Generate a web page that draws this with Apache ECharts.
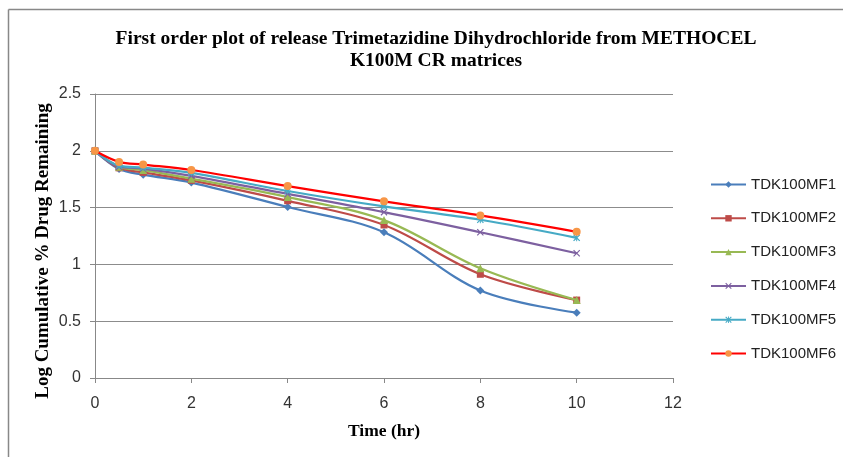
<!DOCTYPE html>
<html>
<head>
<meta charset="utf-8">
<script src="https://cdn.jsdelivr.net/npm/echarts@6/dist/echarts.min.js"></script>
<style>html,body{margin:0;padding:0;background:#fff;}#c{width:843px;height:457px;}</style>
</head>
<body>
<div id="c"></div>
<script>
var times = [0, 0.5, 1, 2, 4, 6, 8, 10];
var seriesNames = ['TDK100MF1','TDK100MF2','TDK100MF3','TDK100MF4','TDK100MF5','TDK100MF6'];
var MF1 = [2, 1.84, 1.79, 1.72, 1.505, 1.283, 0.771, 0.575];
var MF2 = [2, 1.85, 1.81, 1.74, 1.56, 1.347, 0.913, 0.686];
var MF3 = [2, 1.86, 1.83, 1.755, 1.593, 1.39, 0.966, 0.686];
var MF4 = [2, 1.86, 1.844, 1.78, 1.62, 1.46, 1.283, 1.098];
var MF5 = [2, 1.87, 1.852, 1.805, 1.646, 1.51, 1.393, 1.234];
var MF6 = [2, 1.902, 1.879, 1.831, 1.69, 1.555, 1.431, 1.287];
var yTicks = [0, 0.5, 1, 1.5, 2, 2.5];
var xTicks = [0, 2, 4, 6, 8, 10, 12];

var allValues = [MF1, MF2, MF3, MF4, MF5, MF6];
var lineColors = ['#4A7EBB','#BE4B48','#98B954','#7D60A0','#46AAC5','#FF0000'];
var markColors = ['#4A7EBB','#BE4B48','#98B954','#7D60A0','#46AAC5','#F79646'];
var xPath = 'path://M0,1.2L1.2,0L5,3.8L8.8,0L10,1.2L6.2,5L10,8.8L8.8,10L5,6.2L1.2,10L0,8.8L3.8,5Z';
var starPath = 'path://M0,1.2L1.2,0L5,3.8L8.8,0L10,1.2L6.2,5L10,8.8L8.8,10L5,6.2L1.2,10L0,8.8L3.8,5Z M4.3,0L5.7,0L5.7,10L4.3,10Z';
var symbols = ['diamond','rect','triangle',xPath,starPath,'circle'];
var sizes = [8,7,8,7,7,8];

var series = seriesNames.map(function(n,i){
  return {
    name: n, type: 'line', smooth: 0.35,
    data: times.map(function(t,j){ return [t, allValues[i][j]]; }),
    symbol: symbols[i], symbolSize: sizes[i], showSymbol: true,
    lineStyle: {color: lineColors[i], width: 2.25},
    itemStyle: {color: markColors[i], borderWidth: 0},
    emphasis: {disabled: true},
    z: 2 + i
  };
});

var chart = echarts.init(document.getElementById('c'), null, {renderer: 'canvas'});
chart.setOption({
  animation: false,
  backgroundColor: '#fff',
  title: {
    text: 'First order plot of release Trimetazidine Dihydrochloride from METHOCEL\nK100M CR matrices',
    left: 431, top: 23, textAlign: 'center',
    textStyle: {fontFamily: 'Liberation Serif', fontWeight: 'bold', fontSize: 19.5, lineHeight: 22, color: '#000'}
  },
  graphic: [
    {type: 'line', shape: {x1: 8.5, y1: 9.5, x2: 843, y2: 9.5}, style: {stroke: '#888', lineWidth: 1.5}},
    {type: 'line', shape: {x1: 8.5, y1: 9.5, x2: 8.5, y2: 457}, style: {stroke: '#888', lineWidth: 1.5}},
    {type: 'text', x: 43, y: 251, rotation: Math.PI / 2,
      style: {text: 'Log Cumulative % Drug Remaining', fontFamily: 'Liberation Serif', fontWeight: 'bold',
        fontSize: 19, fill: '#000', align: 'center', verticalAlign: 'middle'}}
  ],
  legend: {
    orient: 'vertical', left: 705, top: 172, itemWidth: 35, itemHeight: 8, itemGap: 18.8,
    data: seriesNames,
    textStyle: {fontFamily: 'Liberation Sans', fontSize: 15, lineHeight: 14, color: '#222'}
  },
  grid: {left: 95, right: 170, top: 94, bottom: 79, containLabel: false},
  xAxis: {
    type: 'value', min: xTicks[0], max: xTicks[xTicks.length-1], interval: 2,
    name: 'Time (hr)', nameLocation: 'middle', nameGap: 44,
    nameTextStyle: {fontFamily: 'Liberation Serif', fontWeight: 'bold', fontSize: 17.5, color: '#000'},
    axisLine: {lineStyle: {color: '#888', width: 1}},
    axisTick: {show: true, length: 5, lineStyle: {color: '#888'}},
    axisLabel: {fontFamily: 'Liberation Sans', fontSize: 16, color: '#333', margin: 18},
    splitLine: {show: false}
  },
  yAxis: {
    type: 'value', min: yTicks[0], max: yTicks[yTicks.length-1], interval: 0.5,
    axisLine: {show: true, lineStyle: {color: '#888', width: 1}},
    axisTick: {show: true, length: 5, lineStyle: {color: '#888'}},
    axisLabel: {fontFamily: 'Liberation Sans', fontSize: 16, color: '#333', margin: 14},
    splitLine: {show: true, lineStyle: {color: '#8c8c8c', width: 1}}
  },
  series: series
});
</script>
</body>
</html>
